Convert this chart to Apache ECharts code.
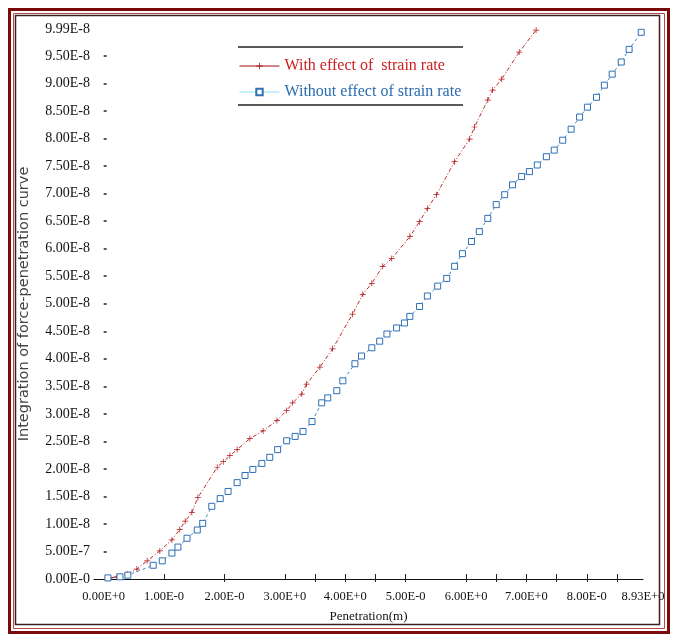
<!DOCTYPE html>
<html><head><meta charset="utf-8">
<script src="https://cdn.jsdelivr.net/npm/echarts@6/dist/echarts.min.js"></script>
<style>html,body{margin:0;padding:0;background:#fff}#c{width:675px;height:635px}</style>
</head><body><div id="c"></div>
<script>
// Penetration (m) and integration values (in units of 1E-8)
const withStrainX = [0.11,0.22,0.39,0.55,0.72,0.93,1.13,1.26,1.35,1.46,1.56,1.88,1.98,2.09,2.21,2.42,2.64,2.87,3.03,3.13,3.28,3.36,3.58,3.79,4.12,4.29,4.44,4.62,4.77,5.07,5.23,5.36,5.51,5.81,6.06,6.14,6.36,6.44,6.59,6.88,7.16];
const withStrainY = [0.02,0.04,0.09,0.18,0.33,0.51,0.71,0.90,1.05,1.21,1.48,2.03,2.13,2.24,2.35,2.55,2.69,2.88,3.06,3.20,3.36,3.54,3.85,4.18,4.81,5.17,5.37,5.68,5.82,6.22,6.49,6.73,6.98,7.58,7.99,8.21,8.70,8.88,9.08,9.57,9.97];
const withoutStrainX = [0.07,0.27,0.40,0.82,0.97,1.13,1.23,1.38,1.55,1.64,1.79,1.93,2.06,2.21,2.34,2.47,2.62,2.75,2.88,3.03,3.17,3.30,3.45,3.61,3.71,3.86,3.96,4.16,4.27,4.44,4.57,4.69,4.85,4.98,5.07,5.23,5.36,5.53,5.68,5.81,5.94,6.09,6.22,6.36,6.50,6.64,6.77,6.92,7.05,7.18,7.33,7.46,7.60,7.74,7.88,8.01,8.16,8.29,8.42,8.57,8.70,8.90];
const withoutStrainY = [0.02,0.04,0.07,0.25,0.33,0.47,0.58,0.74,0.89,1.01,1.32,1.46,1.59,1.75,1.88,1.99,2.10,2.21,2.35,2.51,2.59,2.68,2.86,3.20,3.29,3.42,3.60,3.91,4.05,4.20,4.32,4.45,4.56,4.65,4.77,4.95,5.14,5.32,5.46,5.68,5.91,6.13,6.31,6.55,6.80,6.98,7.16,7.31,7.40,7.52,7.67,7.79,7.97,8.17,8.39,8.57,8.75,8.97,9.17,9.39,9.62,9.93];

const seriesNames = ['With effect of  strain rate', 'Without effect of strain rate'];
const xTickValues = [0,1,2,3,4,5,6,7,8,8.93];
const xTickLabels = ['0.00E+0','1.00E-0','2.00E-0','3.00E+0','4.00E+0','5.00E-0','6.00E+0','7.00E+0','8.00E-0','8.93E+0'];
const xBottomTicks = [1,2,3,3.5,4,4.5,5,6,6.5,7,7.5,8,8.5];
const xTopTicks = [2,3.5,4,4.5,5,6,6.5,7,7.5,8,8.5];
const yTickValues = [0,0.5,1,1.5,2,2.5,3,3.5,4,4.5,5,5.5,6,6.5,7,7.5,8,8.5,9,9.5,9.99];
const yTickLabels = ['0.00E-0','5.00E-7','1.00E-8','1.50E-8','2.00E-8','2.50E-8','3.00E-8','3.50E-8','4.00E-8','4.50E-8','5.00E-8','5.50E-8','6.00E-8','6.50E-8','7.00E-8','7.50E-8','8.00E-8','8.50E-8','9.00E-8','9.50E-8','9.99E-8'];
const yLeftTicks = [0.5,1,1.5,2,2.5,3,3.5,4,4.5,5,5.5,6,6.5,7,7.5,8,8.5,9,9.5];
const yRightTicks = [1,1.5,2,3.5,4,5,5.5,6,6.5,7,7.5,8,9,9.5];

const xName = 'Penetration(m)';
const yName = 'Integration of force-penetration curve';

function lookup(vals, labels, v) {
  const i = vals.findIndex(t => Math.abs(t - v) < 1e-6);
  return i >= 0 ? labels[i] : '';
}

const serif = 'Liberation Serif';
const chart = echarts.init(document.getElementById('c'), null, {renderer: 'canvas'});
const plusPath = 'path://M4.4,0h1.2v4.4h4.4v1.2h-4.4v4.4h-1.2v-4.4h-4.4v-1.2h4.4z';

chart.setOption({
  animation: false,
  backgroundColor: '#fff',
  grid: {left: 94, right: 32, top: 29, bottom: 56},
  legend: {
    orient: 'vertical', left: 239, top: 58, padding: 0,
    itemWidth: 40, itemHeight: 8, itemGap: 10,
    textStyle: {fontFamily: serif, fontSize: 16},
    data: [
      {name: seriesNames[0], textStyle: {color: '#cc2020'}, lineStyle: {color: '#a01010', type: 'solid', width: 1}},
      {name: seriesNames[1], textStyle: {color: '#2a6bb0'}, lineStyle: {color: '#8fe2f2', type: 'solid', width: 1}}
    ]
  },
  xAxis: [
    {
      type: 'value', min: -0.16, max: 8.93, position: 'bottom',
      name: xName, nameLocation: 'middle', nameGap: 31,
      nameTextStyle: {fontFamily: serif, fontSize: 13, color: '#111'},
      splitLine: {show: false},
      axisLine: {show: false},
      axisTick: {show: true, inside: true, length: 5, customValues: xBottomTicks, lineStyle: {color: '#222'}},
      axisLabel: {customValues: xTickValues, margin: 11, fontFamily: serif, fontSize: 12.5, color: '#111',
        formatter: v => lookup(xTickValues, xTickLabels, v)}
    },
    {
      type: 'value', min: -0.16, max: 8.93, position: 'top',
      splitLine: {show: false},
      axisLine: {show: true, lineStyle: {color: '#111', width: 1.2}},
      axisTick: {show: true, inside: true, length: 3, customValues: xTopTicks, lineStyle: {color: '#222'}},
      axisLabel: {show: false}
    }
  ],
  yAxis: [
    {
      type: 'value', min: 0, max: 9.99, position: 'left',
      name: yName, nameLocation: 'middle', nameGap: 62, nameRotate: 90,
      nameTextStyle: {fontFamily: 'DejaVu Sans', fontSize: 14.5, color: '#444'},
      splitLine: {show: false},
      axisLine: {show: false},
      axisTick: {show: true, inside: true, length: 3, customValues: yLeftTicks, lineStyle: {color: '#222', width: 1.5}},
      axisLabel: {customValues: yTickValues, margin: 4, fontFamily: serif, fontSize: 14, color: '#111',
        formatter: v => lookup(yTickValues, yTickLabels, v)}
    },
    {
      type: 'value', min: 0, max: 9.99, position: 'right',
      splitLine: {show: false},
      axisLine: {show: false},
      axisTick: {show: true, inside: false, length: 3, customValues: yRightTicks, lineStyle: {color: '#222', width: 1.5}},
      axisLabel: {show: false}
    }
  ],
  series: [
    {
      name: seriesNames[0], type: 'line', xAxisIndex: 0, yAxisIndex: 0,
      data: withStrainX.map((x, i) => [x, withStrainY[i]]),
      symbol: plusPath, symbolSize: 6, showAllSymbol: true,
      itemStyle: {color: '#b01515'},
      lineStyle: {color: '#c02a2a', width: 1, type: [4, 2, 1, 2]},
      clip: true
    },
    {
      name: seriesNames[1], type: 'line', xAxisIndex: 0, yAxisIndex: 0,
      data: withoutStrainX.map((x, i) => [x, withoutStrainY[i]]),
      symbol: 'rect', symbolSize: 6, showAllSymbol: true,
      itemStyle: {color: '#ffffff', borderColor: '#2e6fb5', borderWidth: 1},
      lineStyle: {color: '#3f86c8', width: 1, type: [3, 3]},
      clip: true
    }
  ],
  graphic: [
    {type: 'rect', silent: true, z: 100, shape: {x: 9.5, y: 9.5, width: 659, height: 623}, style: {fill: null, stroke: '#7d0a0a', lineWidth: 3}},
    {type: 'rect', silent: true, z: 100, shape: {x: 13.5, y: 13.5, width: 651, height: 615}, style: {fill: null, stroke: '#b84a4a', lineWidth: 1}},
    {type: 'rect', silent: true, z: 100, shape: {x: 15.5, y: 15.5, width: 644, height: 609}, style: {fill: null, stroke: '#3a2020', lineWidth: 1.5}},
    {type: 'line', silent: true, z: 100, shape: {x1: 238, y1: 47, x2: 463, y2: 47}, style: {stroke: '#222', lineWidth: 1.5}},
    {type: 'line', silent: true, z: 100, shape: {x1: 238, y1: 105, x2: 463, y2: 105}, style: {stroke: '#222', lineWidth: 1.5}}
  ]
});
</script></body></html>
